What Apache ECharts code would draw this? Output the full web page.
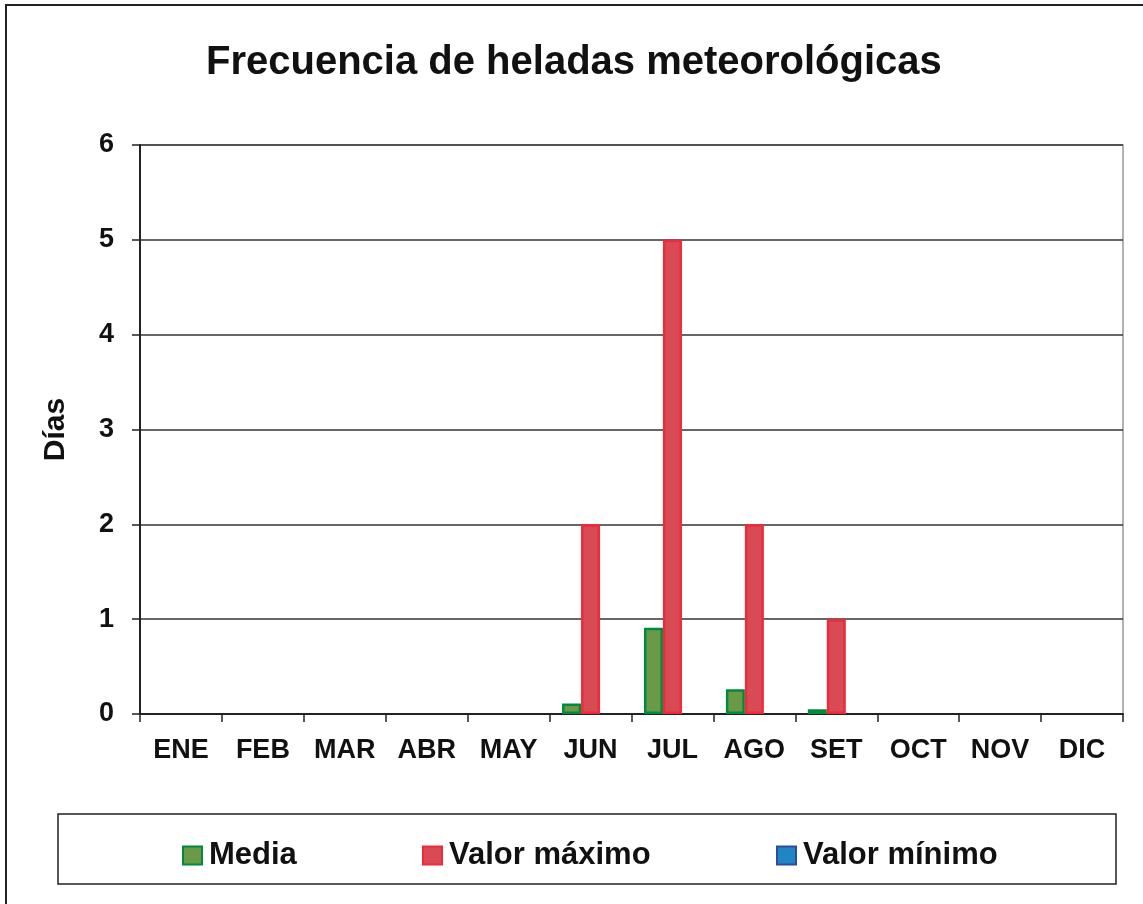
<!DOCTYPE html>
<html>
<head>
<meta charset="utf-8">
<script src="https://cdn.jsdelivr.net/npm/echarts@6/dist/echarts.min.js"></script>
<style>
  html, body { margin: 0; padding: 0; background: #fff; }
  #chart { width: 1143px; height: 904px; }
</style>
</head>
<body>
<div id="chart"></div>
<script>
const categories = ['ENE','FEB','MAR','ABR','MAY','JUN','JUL','AGO','SET','OCT','NOV','DIC'];
const media      = [0, 0, 0, 0, 0, 0.11, 0.91, 0.26, 0.05, 0, 0, 0];
const valorMax   = [0, 0, 0, 0, 0, 2, 5, 2, 1, 0, 0, 0];
const valorMin   = [0, 0, 0, 0, 0, 0, 0, 0, 0, 0, 0, 0];
const yTicks     = [0, 1, 2, 3, 4, 5, 6];

const FONT = '"Liberation Sans", Arial, Helvetica, sans-serif';
const shown = arr => arr.map(v => (v === 0 ? '-' : v));

const chart = echarts.init(document.getElementById('chart'), null, { renderer: 'canvas' });

const legendBase = {
  orient: 'horizontal',
  top: 840,
  padding: 0,
  itemWidth: 19,
  itemHeight: 18,
  icon: 'rect',
  selectedMode: false,
  textStyle: { fontFamily: FONT, fontSize: 31, fontWeight: 'bold', color: '#111', padding: [0, 0, 0, 2] }
};

chart.setOption({
  backgroundColor: '#ffffff',
  animation: false,
  title: {
    text: 'Frecuencia de heladas meteorológicas',
    left: 206,
    top: 43,
    padding: 0,
    textStyle: { fontFamily: FONT, fontSize: 40, fontWeight: 'bold', color: '#111' }
  },
  graphic: [
    { type: 'rect', shape: { x: 6, y: 5, width: 1300, height: 1100 }, style: { fill: 'none', stroke: '#222', lineWidth: 2 }, z: 100, silent: true },
    { type: 'rect', shape: { x: 58, y: 814, width: 1058, height: 70 }, style: { fill: 'none', stroke: '#222', lineWidth: 1.5 }, z: 100, silent: true }
  ],
  legend: [
    Object.assign({}, legendBase, { left: 182, data: ['Media'] }),
    Object.assign({}, legendBase, { left: 422, data: ['Valor máximo'] }),
    Object.assign({}, legendBase, { left: 776, data: ['Valor mínimo'] })
  ],
  grid: {
    left: 140, right: 20, top: 145, bottom: 190,
    show: true, borderColor: '#999', borderWidth: 1.5, backgroundColor: 'transparent'
  },
  xAxis: {
    type: 'category',
    data: categories,
    boundaryGap: true,
    axisLine: { show: true, lineStyle: { color: '#222', width: 2 } },
    axisTick: { show: true, inside: false, length: 8, alignWithLabel: false, lineStyle: { color: '#222', width: 1.5 } },
    axisLabel: { margin: 23, fontFamily: FONT, fontSize: 27, fontWeight: 'bold', color: '#111', interval: 0 },
    splitLine: { show: false }
  },
  yAxis: {
    type: 'value',
    min: yTicks[0],
    max: yTicks[yTicks.length - 1],
    interval: 1,
    name: 'Días',
    nameLocation: 'middle',
    nameGap: 69,
    nameRotate: 90,
    nameTextStyle: { fontFamily: FONT, fontSize: 30, fontWeight: 'bold', color: '#111' },
    axisLine: { show: true, lineStyle: { color: '#222', width: 2 } },
    axisTick: { show: true, inside: false, length: 8, lineStyle: { color: '#222', width: 1.5 } },
    axisLabel: { margin: 26, fontFamily: FONT, fontSize: 27, fontWeight: 'bold', color: '#111' },
    splitLine: { show: true, lineStyle: { color: '#333', width: 1.5 } }
  },
  series: [
    {
      name: 'Media', type: 'bar', data: shown(media),
      barWidth: 19, barGap: '0%',
      itemStyle: { color: '#6A9A48', borderColor: '#008A3E', borderWidth: 2.5 }
    },
    {
      name: 'Valor máximo', type: 'bar', data: shown(valorMax),
      barWidth: 19, barGap: '0%',
      itemStyle: { color: '#D84B55', borderColor: '#EF2A3A', borderWidth: 2.5 }
    },
    {
      name: 'Valor mínimo', type: 'bar', data: shown(valorMin),
      barWidth: 19, barGap: '0%',
      itemStyle: { color: '#1F86C4', borderColor: '#2F4AA0', borderWidth: 2.5 }
    }
  ]
});
</script>
</body>
</html>
